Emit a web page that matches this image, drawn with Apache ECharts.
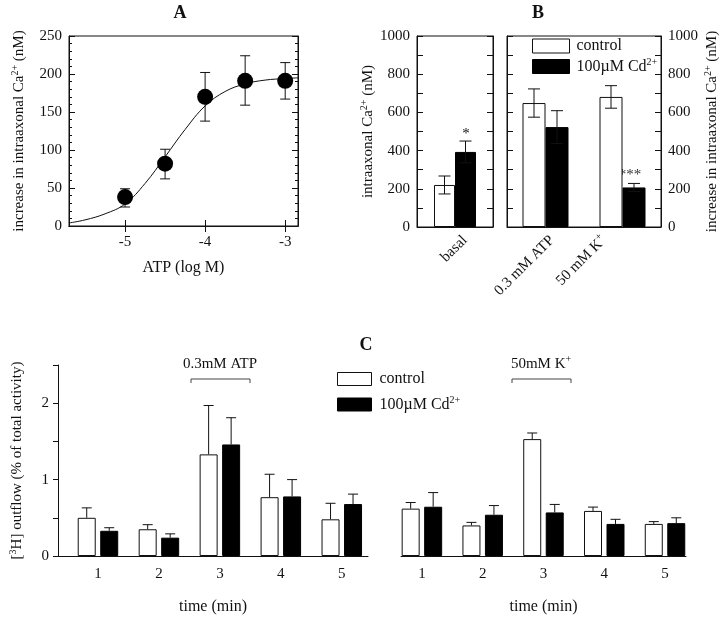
<!DOCTYPE html>
<html>
<head>
<meta charset="utf-8">
<script src="https://cdn.jsdelivr.net/npm/echarts@6/dist/echarts.min.js"></script>
<style>
  html, body { margin: 0; padding: 0; background: #fff; }
  #main { width: 720px; height: 618px; }
</style>
</head>
<body>
<div id="main"></div>
<script>
// panel A: dose response
var doseLog = [-5, -4.5, -4, -3.5, -3];
var doseMean = [38, 82, 170, 191, 191];
var doseLow = [25, 62, 138, 159, 167];
var doseHigh = [49, 101, 202, 224, 215];
var doseTicks = [-5, -4, -3];
// fitted curve
var fitLog = [-5.7, -5.5, -5.25, -5, -4.75, -4.5, -4.25, -4, -3.75, -3.5, -3.25, -3, -2.84];
var fitVal = [4, 8, 16, 29, 56, 91, 127, 158, 177, 187, 192, 194, 195];

// panel B
var basalGroup = ['basal'];
var basalCtrl = [220];
var basalCtrlErr = [47];
var basalCd = [393];
var basalCdErr = [57];
var stimGroups = ['0.3 mM ATP', '50 mM K+'];
var stimCtrl = [649, 681];
var stimCtrlErr = [74, 59];
var stimCd = [523, 207];
var stimCdErr = [86, 21];

// panel C (top of error bar given directly)
var minutes = [1, 2, 3, 4, 5];
var atpCtrl = [0.50, 0.35, 1.33, 0.77, 0.48];
var atpCtrlTop = [0.63, 0.41, 1.97, 1.07, 0.69];
var atpCd = [0.33, 0.24, 1.46, 0.78, 0.68];
var atpCdTop = [0.37, 0.29, 1.81, 1.00, 0.81];
var kCtrl = [0.62, 0.40, 1.53, 0.59, 0.42];
var kCtrlTop = [0.70, 0.44, 1.61, 0.64, 0.45];
var kCd = [0.645, 0.54, 0.57, 0.42, 0.43];
var kCdTop = [0.83, 0.66, 0.675, 0.48, 0.50];

var CTRL = 'control';
var CD = '100µM Cd2+';
var FONT = '"Liberation Serif", "DejaVu Serif", serif';
var INK = '#111';
var sup = { fontSize: 10, fontFamily: FONT, color: INK, padding: [0, 0, 9, 0] };
var txt = { fontSize: 15, fontFamily: FONT, color: INK };

var myChart = echarts.init(document.getElementById('main'));

function errorBars(offset, cap, upOnly) {
    return function (params, api) {
        var x = api.value(0);
        var top = api.coord([x, api.value(2)]);
        var bot = api.coord([x, api.value(1)]);
        var cx = top[0] + offset;
        var st = { stroke: INK, lineWidth: 1 };
        var kids = [
            { type: 'line', shape: { x1: cx, y1: top[1], x2: cx, y2: bot[1] }, style: st },
            { type: 'line', shape: { x1: cx - cap, y1: top[1], x2: cx + cap, y2: top[1] }, style: st }
        ];
        if (!upOnly) {
            kids.push({ type: 'line', shape: { x1: cx - cap, y1: bot[1], x2: cx + cap, y2: bot[1] }, style: st });
        }
        return { type: 'group', children: kids };
    };
}

function symErr(cats, mean, err) {
    return cats.map(function (c, i) { return [c, mean[i] - err[i], mean[i] + err[i]]; });
}
function upErr(xs, mean, top) {
    return xs.map(function (x, i) { return [x, mean[i], top[i]]; });
}
function pairs(xs, ys) {
    return xs.map(function (x, i) { return [x, ys[i]]; });
}
function richName(s) {
    // trailing '+' of K+ goes up as superscript
    return s.replace(/K\+$/, 'K{sup|+}');
}

var axLine = { show: true, lineStyle: { color: INK, width: 1 } };
var label15 = { color: INK, fontSize: 15, fontFamily: FONT };
var ctrlStyle = { color: '#fff', borderColor: INK, borderWidth: 1 };
var cdStyle = { color: '#000', borderColor: '#000', borderWidth: 1 };

function boxY(grid, min, max, interval, minorSplit, showLabel, pos, name, nameGap) {
    return {
        type: 'value', gridIndex: grid, min: min, max: max, interval: interval,
        position: pos,
        axisLine: axLine,
        axisTick: { show: true, inside: true, length: 6, lineStyle: { color: INK } },
        minorTick: { show: true, splitNumber: minorSplit, length: minorSplit === 2 ? 6 : 3, lineStyle: { color: INK } },
        axisLabel: Object.assign({ show: showLabel, margin: 7, formatter: function (v) { return String(v); } }, label15),
        splitLine: { show: false },
        name: name || '',
        nameLocation: 'middle',
        nameRotate: 90,
        nameGap: nameGap || 0,
        nameTextStyle: { fontSize: 15, fontFamily: FONT, color: INK, rich: { sup: sup, t: txt } }
    };
}

// rotated group labels under panel B, anchored at their right end
var bLabelAnchors = [[465, 238], [552, 238], [604, 238]];
var bLabels = basalGroup.concat(stimGroups).map(function (s, i) {
    return {
        type: 'text', x: bLabelAnchors[i][0], y: bLabelAnchors[i][1], rotation: Math.PI / 4,
        style: {
            text: richName(s), fontSize: 15, fontFamily: FONT, fill: INK,
            align: 'right', verticalAlign: 'middle', rich: { sup: sup }
        }
    };
});

var option = {
    backgroundColor: '#fff',
    animation: false,
    textStyle: { fontFamily: FONT },
    grid: [
        { left: 69, top: 36, width: 229, height: 190, show: true, borderColor: INK, borderWidth: 1, outerBoundsMode: 'none' },
        { left: 417, top: 36, width: 76, height: 191, show: true, borderColor: INK, borderWidth: 1, outerBoundsMode: 'none' },
        { left: 507, top: 36, width: 154, height: 191, show: true, borderColor: INK, borderWidth: 1, outerBoundsMode: 'none' },
        { left: 58, top: 365, width: 310, height: 191, outerBoundsMode: 'none' },
        { left: 401, top: 365, width: 285, height: 191, outerBoundsMode: 'none' }
    ],
    xAxis: [
        {
            type: 'value', gridIndex: 0, min: -5.7, max: -2.84,
            axisLine: axLine,
            axisTick: { show: true, inside: true, length: 6, customValues: doseTicks, lineStyle: { color: INK } },
            axisLabel: Object.assign({ customValues: doseTicks, margin: 9 }, label15),
            splitLine: { show: false },
            name: 'ATP (log M)', nameLocation: 'middle', nameGap: 34,
            nameTextStyle: { fontSize: 16, fontFamily: FONT, color: INK }
        },
        {
            type: 'value', gridIndex: 0, min: -5.7, max: -2.84, position: 'top',
            axisLine: axLine,
            axisTick: { show: true, inside: true, length: 6, customValues: doseTicks, lineStyle: { color: INK } },
            axisLabel: { show: false },
            splitLine: { show: false }
        },
        {
            type: 'category', gridIndex: 1, data: basalGroup,
            axisLine: axLine, axisTick: { show: false },
            axisLabel: { show: false },
            splitLine: { show: false }
        },
        {
            type: 'category', gridIndex: 2, data: stimGroups,
            axisLine: axLine, axisTick: { show: false },
            axisLabel: { show: false },
            splitLine: { show: false }
        },
        {
            type: 'value', gridIndex: 3, min: 0.344, max: 5.43,
            axisLine: axLine, axisTick: { show: false },
            axisLabel: Object.assign({ customValues: minutes, margin: 11 }, label15),
            splitLine: { show: false },
            name: 'time (min)', nameLocation: 'middle', nameGap: 43,
            nameTextStyle: { fontSize: 16, fontFamily: FONT, color: INK }
        },
        {
            type: 'value', gridIndex: 4, min: 0.656, max: 5.345,
            axisLine: axLine, axisTick: { show: false },
            axisLabel: Object.assign({ customValues: minutes, margin: 11 }, label15),
            splitLine: { show: false },
            name: 'time (min)', nameLocation: 'middle', nameGap: 43,
            nameTextStyle: { fontSize: 16, fontFamily: FONT, color: INK }
        }
    ],
    yAxis: [
        boxY(0, 0, 250, 50, 5, true, 'left', '{t|increase in intraaxonal Ca}{sup|2+}{t| (nM)}', 40),
        boxY(0, 0, 250, 50, 5, false, 'right'),
        boxY(1, 0, 1000, 200, 2, true, 'left', '{t|intraaxonal Ca}{sup|2+}{t| (nM)}', 39),
        boxY(1, 0, 1000, 200, 2, false, 'right'),
        boxY(2, 0, 1000, 200, 2, false, 'left'),
        boxY(2, 0, 1000, 200, 2, true, 'right', '{t|increase in intraaxonal Ca}{sup|2+}{t| (nM)}', 42),
        {
            type: 'value', gridIndex: 3, min: 0, max: 2.5, interval: 0.5,
            axisLine: axLine,
            axisTick: { show: true, length: 5, lineStyle: { color: INK } },
            axisLabel: Object.assign({
                margin: 9,
                formatter: function (v) { return v % 1 === 0 ? String(v) : ''; }
            }, label15),
            splitLine: { show: false },
            name: '[{sup|3}H] outflow (% of total activity)', nameLocation: 'middle', nameRotate: 90, nameGap: 31,
            nameTextStyle: { fontSize: 15, fontFamily: FONT, color: INK, rich: { sup: sup } }
        },
        { type: 'value', gridIndex: 4, min: 0, max: 2.5, show: false }
    ],
    legend: [
        {
            left: 527, top: 33, orient: 'vertical', icon: 'rect', selectedMode: false,
            itemWidth: 37, itemHeight: 14, itemGap: 3,
            data: [CTRL, CD],
            itemStyle: { borderWidth: 1 },
            formatter: function (n) { return n === CD ? '100µM Cd{sup|2+}' : n; },
            textStyle: { fontSize: 16, fontFamily: FONT, color: INK, padding: [0, 0, 0, 2], rich: { sup: sup } }
        },
        {
            left: 332, top: 366, orient: 'vertical', icon: 'rect', selectedMode: false,
            itemWidth: 34, itemHeight: 13, itemGap: 8,
            data: [CTRL, CD],
            itemStyle: { borderWidth: 1 },
            formatter: function (n) { return n === CD ? '100µM Cd{sup|2+}' : n; },
            textStyle: { fontSize: 16, fontFamily: FONT, color: INK, padding: [0, 0, 0, 3], rich: { sup: sup } }
        }
    ],
    series: [
        // A
        {
            type: 'line', xAxisIndex: 0, yAxisIndex: 0, data: pairs(fitLog, fitVal),
            smooth: 0.4, showSymbol: false, lineStyle: { color: INK, width: 1 }, z: 2
        },
        {
            type: 'custom', xAxisIndex: 0, yAxisIndex: 0, renderItem: errorBars(0, 5, false),
            data: doseLog.map(function (x, i) { return [x, doseLow[i], doseHigh[i]]; }),
            encode: { x: 0, y: [1, 2] }, z: 3
        },
        {
            type: 'scatter', xAxisIndex: 0, yAxisIndex: 0, data: pairs(doseLog, doseMean),
            symbol: 'circle', symbolSize: 16, itemStyle: { color: '#000', opacity: 1 }, z: 4
        },
        // B basal
        { name: CTRL, type: 'bar', xAxisIndex: 2, yAxisIndex: 2, data: basalCtrl, barWidth: 21, barGap: '0%', itemStyle: ctrlStyle },
        { name: CD, type: 'bar', xAxisIndex: 2, yAxisIndex: 2, data: basalCd, barWidth: 21, barGap: '0%', itemStyle: cdStyle },
        {
            type: 'custom', xAxisIndex: 2, yAxisIndex: 2, renderItem: errorBars(-10.5, 6, false),
            data: symErr(basalGroup, basalCtrl, basalCtrlErr), encode: { x: 0, y: [1, 2] }, z: 3
        },
        {
            type: 'custom', xAxisIndex: 2, yAxisIndex: 2, renderItem: errorBars(10.5, 6, false),
            data: symErr(basalGroup, basalCd, basalCdErr), encode: { x: 0, y: [1, 2] }, z: 3
        },
        // B stimulated
        { name: CTRL, type: 'bar', xAxisIndex: 3, yAxisIndex: 4, data: stimCtrl, barWidth: 23, barGap: '0%', itemStyle: ctrlStyle },
        { name: CD, type: 'bar', xAxisIndex: 3, yAxisIndex: 4, data: stimCd, barWidth: 23, barGap: '0%', itemStyle: cdStyle },
        {
            type: 'custom', xAxisIndex: 3, yAxisIndex: 4, renderItem: errorBars(-11.5, 6, false),
            data: symErr(stimGroups, stimCtrl, stimCtrlErr), encode: { x: 0, y: [1, 2] }, z: 3
        },
        {
            type: 'custom', xAxisIndex: 3, yAxisIndex: 4, renderItem: errorBars(11.5, 6, false),
            data: symErr(stimGroups, stimCd, stimCdErr), encode: { x: 0, y: [1, 2] }, z: 3
        },
        // C, ATP
        { name: CTRL, type: 'bar', xAxisIndex: 4, yAxisIndex: 6, data: pairs(minutes, atpCtrl), barWidth: 18, barGap: '25%', itemStyle: ctrlStyle },
        { name: CD, type: 'bar', xAxisIndex: 4, yAxisIndex: 6, data: pairs(minutes, atpCd), barWidth: 18, barGap: '25%', itemStyle: cdStyle },
        {
            type: 'custom', xAxisIndex: 4, yAxisIndex: 6, renderItem: errorBars(-11.25, 5, true),
            data: upErr(minutes, atpCtrl, atpCtrlTop), encode: { x: 0, y: [1, 2] }, z: 3
        },
        {
            type: 'custom', xAxisIndex: 4, yAxisIndex: 6, renderItem: errorBars(11.25, 5, true),
            data: upErr(minutes, atpCd, atpCdTop), encode: { x: 0, y: [1, 2] }, z: 3
        },
        // C, K+
        { name: CTRL, type: 'bar', xAxisIndex: 5, yAxisIndex: 7, data: pairs(minutes, kCtrl), barWidth: 18, barGap: '25%', itemStyle: ctrlStyle },
        { name: CD, type: 'bar', xAxisIndex: 5, yAxisIndex: 7, data: pairs(minutes, kCd), barWidth: 18, barGap: '25%', itemStyle: cdStyle },
        {
            type: 'custom', xAxisIndex: 5, yAxisIndex: 7, renderItem: errorBars(-11.25, 5, true),
            data: upErr(minutes, kCtrl, kCtrlTop), encode: { x: 0, y: [1, 2] }, z: 3
        },
        {
            type: 'custom', xAxisIndex: 5, yAxisIndex: 7, renderItem: errorBars(11.25, 5, true),
            data: upErr(minutes, kCd, kCdTop), encode: { x: 0, y: [1, 2] }, z: 3
        }
    ],
    graphic: bLabels.concat([
        { type: 'text', x: 180, y: 13, style: { text: 'A', fontSize: 18, fontWeight: 'bold', fontFamily: FONT, fill: INK, align: 'center', verticalAlign: 'middle' } },
        { type: 'text', x: 538, y: 13, style: { text: 'B', fontSize: 18, fontWeight: 'bold', fontFamily: FONT, fill: INK, align: 'center', verticalAlign: 'middle' } },
        { type: 'text', x: 366, y: 345, style: { text: 'C', fontSize: 18, fontWeight: 'bold', fontFamily: FONT, fill: INK, align: 'center', verticalAlign: 'middle' } },
        { type: 'text', x: 466, y: 134, style: { text: '*', fontSize: 15, fontFamily: FONT, fill: INK, align: 'center', verticalAlign: 'middle' } },
        { type: 'text', x: 630, y: 175, style: { text: '***', fontSize: 15, fontFamily: FONT, fill: '#333', align: 'center', verticalAlign: 'middle' } },
        // brackets over minute 3
        { type: 'polyline', shape: { points: [[191, 383], [191, 379], [250, 379], [250, 383]] }, style: { stroke: '#444', lineWidth: 1, fill: null } },
        { type: 'text', x: 220, y: 364, style: { text: '0.3mM ATP', fontSize: 15, fontFamily: FONT, fill: INK, align: 'center', verticalAlign: 'middle' } },
        { type: 'polyline', shape: { points: [[512, 383], [512, 379], [571, 379], [571, 383]] }, style: { stroke: '#444', lineWidth: 1, fill: null } },
        {
            type: 'text', x: 541, y: 364,
            style: { text: '50mM K{sup|+}', fontSize: 15, fontFamily: FONT, fill: INK, align: 'center', verticalAlign: 'middle', rich: { sup: sup } }
        }
    ])
};

myChart.setOption(option);
</script>
</body>
</html>
